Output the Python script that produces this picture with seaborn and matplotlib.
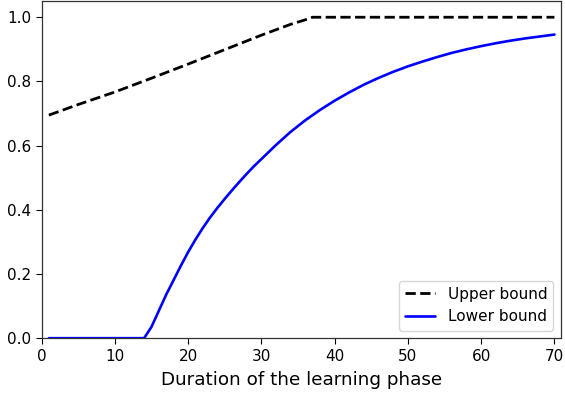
import matplotlib
matplotlib.use("Agg")
import matplotlib.pyplot as plt
import seaborn as sns
import pandas as pd

upper_x = [1, 5, 10, 15, 20, 25, 30, 32, 34, 36, 37, 45, 55, 70]
upper_y = [0.695, 0.728, 0.767, 0.810, 0.854, 0.899, 0.944, 0.961, 0.978, 0.992,
           1.0, 1.0, 1.0, 1.0]

lower_x = [1, 5, 10, 14, 15, 16, 17, 18, 19, 20, 21, 22, 23, 24, 25, 26, 27, 28, 29,
           30, 32, 34, 36, 38, 40, 42, 44, 46, 48, 50, 52, 54, 56, 58, 60, 62, 64,
           66, 68, 70]
lower_y = [0.0, 0.0, 0.0, 0.0, 0.035, 0.085, 0.135, 0.18, 0.225, 0.268, 0.307, 0.343,
           0.376, 0.406, 0.434, 0.461, 0.487, 0.512, 0.536, 0.558, 0.602, 0.643, 0.679,
           0.711, 0.740, 0.766, 0.790, 0.811, 0.830, 0.847, 0.862, 0.876, 0.889,
           0.900, 0.910, 0.919, 0.927, 0.934, 0.940, 0.946]

xlabel = "Duration of the learning phase"
yticks = [0.0, 0.2, 0.4, 0.6, 0.8, 1.0]
xticks = [0, 10, 20, 30, 40, 50, 60, 70]

sns.set_theme(style="ticks")
plt.rcParams["font.family"] = ["DejaVu Sans"]

fig = plt.figure(figsize=(5.65, 3.96), dpi=100)
ax = fig.add_axes([0.0735, 0.146, 0.9195, 0.851])

df_up = pd.DataFrame({"x": upper_x, "y": upper_y})
df_lo = pd.DataFrame({"x": lower_x, "y": lower_y})
sns.lineplot(data=df_up, x="x", y="y", ax=ax, color="black", linestyle="--",
             linewidth=2.0, label="Upper bound")
sns.lineplot(data=df_lo, x="x", y="y", ax=ax, color="blue", linewidth=1.9,
             label="Lower bound")

ax.set_xlim(0, 70.9)
ax.set_ylim(0, 1.05)
ax.set_xticks(xticks)
ax.set_yticks(yticks)
ax.set_yticklabels([f"{v:.1f}" for v in yticks])
ax.tick_params(labelsize=11, colors="black", length=4, width=0.8)
ax.set_xlabel(xlabel, fontsize=13.2, color="black", labelpad=5)
ax.set_ylabel("")
for s in ax.spines.values():
    s.set_color("#333333")
    s.set_linewidth(0.9)
leg = ax.legend(loc="lower right", fontsize=11, frameon=True)
leg.get_frame().set_edgecolor("#cccccc")
for t in leg.get_texts():
    t.set_color("black")

fig.savefig("out.png", dpi=100)
